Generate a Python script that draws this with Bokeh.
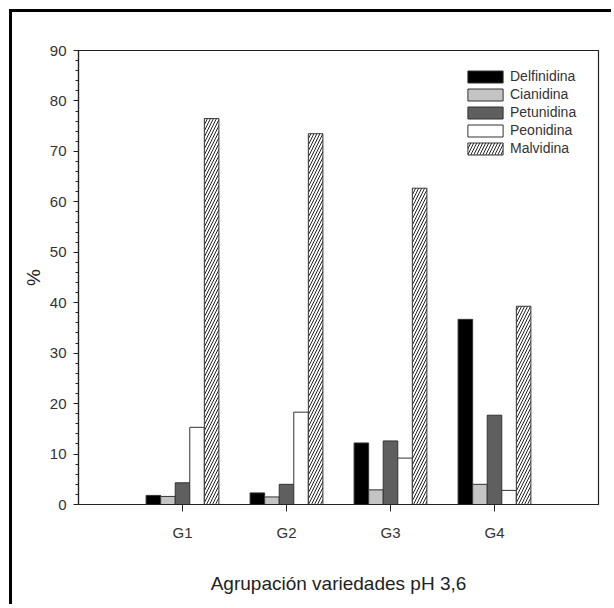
from bokeh.plotting import figure
from bokeh.models import Range1d, FixedTicker, SingleIntervalTicker, Legend, LegendItem, ColumnDataSource
from bokeh.embed import file_html
from bokeh.resources import INLINE

groups = ["G1", "G2", "G3", "G4"]
group_pos = [1, 2, 3, 4]
series = ["Delfinidina", "Cianidina", "Petunidina", "Peonidina", "Malvidina"]
delfinidina = [1.8, 2.3, 12.2, 36.7]
cianidina = [1.6, 1.5, 2.9, 4.0]
petunidina = [4.3, 4.0, 12.6, 17.7]
peonidina = [15.3, 18.3, 9.2, 2.8]
malvidina = [76.5, 73.5, 62.7, 39.3]

values = [delfinidina, cianidina, petunidina, peonidina, malvidina]
offsets = [-0.28, -0.14, 0.0, 0.14, 0.28]
fills = ["#000000", "#c4c4c4", "#5f5f5f", "#ffffff", "#ffffff"]
hatches = [None, None, None, None, "/"]

FONT = "Liberation Sans"

p = figure(width=602, height=595, output_backend="svg", toolbar_location=None,
           x_range=Range1d(0, 5), y_range=Range1d(0, 90),
           min_border_left=66, min_border_top=38, min_border_right=16, min_border_bottom=103)
p.styles = {"border-left": "3px solid black", "border-top": "3px solid black",
            "margin-left": "9px", "margin-top": "9px"}

p.xgrid.visible = False
p.ygrid.visible = False
p.outline_line_color = "#222222"
p.outline_line_width = 1.2

items = []
for name, vals, off, fc, h in zip(series, values, offsets, fills, hatches):
    src = ColumnDataSource(dict(x=[g + off for g in group_pos], top=vals))
    kw = {}
    if h:
        kw = dict(hatch_pattern=h, hatch_color="#222222", hatch_scale=6, hatch_weight=1)
    r = p.vbar(x="x", top="top", width=0.14, bottom=0, source=src,
               fill_color=fc, line_color="#333333", line_width=1, **kw)
    items.append(LegendItem(label=name, renderers=[r]))

legend = Legend(items=items, location=(385, 348), border_line_color=None,
                background_fill_alpha=0, padding=0, margin=0, spacing=2,
                glyph_width=44, glyph_height=15, label_height=14, label_standoff=3,
                label_text_font=FONT, label_text_font_size="14px", label_text_color="#333333")
p.add_layout(legend)

# x axis
p.xaxis.ticker = FixedTicker(ticks=group_pos)
p.xaxis.major_label_overrides = {g: lab for g, lab in zip(group_pos, groups)}
p.xaxis.major_tick_out = 7
p.xaxis.major_tick_in = 0
p.xaxis.major_label_standoff = 12
p.xaxis.axis_label = "Agrupación variedades pH 3,6"
p.xaxis.axis_label_text_font = FONT
p.xaxis.axis_label_text_font_size = "19px"
p.xaxis.axis_label_text_font_style = "normal"
p.xaxis.axis_label_text_color = "#222222"
p.xaxis.axis_label_standoff = 29

# y axis
p.yaxis.ticker = SingleIntervalTicker(interval=10, num_minor_ticks=5)
p.yaxis.major_tick_out = 5
p.yaxis.major_tick_in = 0
p.yaxis.minor_tick_out = 3
p.yaxis.minor_tick_in = 0
p.yaxis.major_label_standoff = 7
p.yaxis.axis_label = "%"
p.yaxis.axis_label_text_font = FONT
p.yaxis.axis_label_text_font_size = "19px"
p.yaxis.axis_label_text_font_style = "normal"
p.yaxis.axis_label_text_color = "#222222"
p.yaxis.axis_label_standoff = 3

for ax in (p.xaxis, p.yaxis):
    ax.major_label_text_font = FONT
    ax.major_label_text_font_size = "15px"
    ax.major_label_text_color = "#333333"
    ax.axis_line_color = "#222222"
    ax.axis_line_width = 1.2
    ax.major_tick_line_color = "#222222"
    ax.minor_tick_line_color = "#222222"

p.xaxis.minor_tick_line_color = None

open("out.html", "w").write(file_html(p, INLINE))
